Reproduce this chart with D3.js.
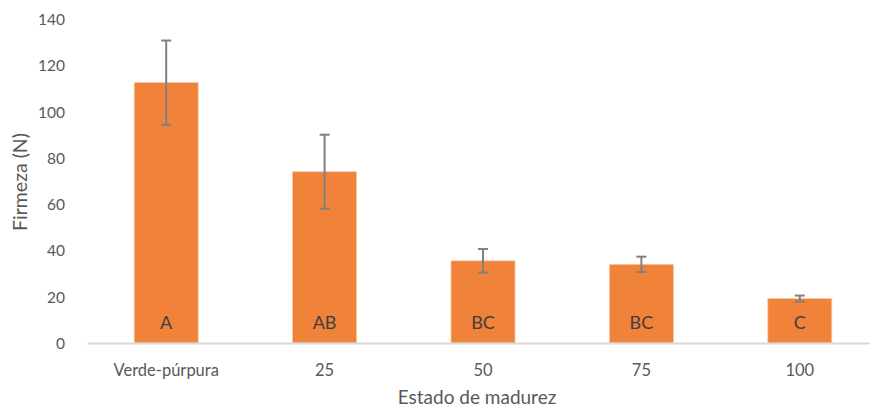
<!DOCTYPE html>
<html>
<head>
<meta charset="utf-8">
<script src="https://cdn.jsdelivr.net/npm/d3@7"></script>
<style>
  html, body { margin: 0; padding: 0; background: #fff; }
  svg text { font-family: Lato, "Open Sans", sans-serif; }
</style>
</head>
<body>
<svg id="chart" width="870" height="409"></svg>
<script>
// Firmness by ripeness stage: mean, error and significance letter
const categories = ["Verde-púrpura", "25", "50", "75", "100"];
const firmeza = [112.5, 74.0, 35.5, 34.0, 19.2];
const errores = [18.2, 16.0, 5.1, 3.3, 1.3];
const letras = ["A", "AB", "BC", "BC", "C"];
const yTicks = [0, 20, 40, 60, 80, 100, 120, 140];

const svg = d3.select("#chart");
const plotLeft = 87, plotRight = 879, plotTop = 19, plotBottom = 343;

const x = d3.scaleBand().domain(categories).range([plotLeft, plotRight]).paddingInner(0.596).paddingOuter(0.298);
const y = d3.scaleLinear().domain([0, 140]).range([plotBottom, plotTop]);

// y tick labels (no axis line, no gridlines)
const yAxis = d3.axisLeft(y).tickValues(yTicks).tickSize(0).tickPadding(0);
svg.append("g")
  .attr("transform", `translate(65,0)`)
  .call(yAxis)
  .call(g => g.select(".domain").remove())
  .call(g => g.selectAll("text")
    .attr("fill", "#595959").attr("font-size", 15.5).attr("dy", "0.35em"));

// bars
svg.append("g").selectAll("rect")
  .data(categories)
  .join("rect")
  .attr("x", d => x(d))
  .attr("width", x.bandwidth())
  .attr("y", (d, i) => y(firmeza[i]))
  .attr("height", (d, i) => y(0) - y(firmeza[i]))
  .attr("fill", "#F0823A")
  .attr("stroke", "#F8C7A4")
  .attr("stroke-width", 0.8);

// x axis line and category labels
const xAxis = d3.axisBottom(x).tickSize(0).tickPadding(20);
svg.append("g")
  .attr("transform", `translate(0,${plotBottom})`)
  .call(xAxis)
  .call(g => g.select(".domain").attr("stroke", "#D9D9D9").attr("stroke-width", 2))
  .call(g => g.selectAll("text")
    .attr("fill", "#595959").attr("font-size", 16.5).attr("dy", "0.35em").attr("y", 27));

// error bars
const cx = d => x(d) + x.bandwidth() / 2;
const eb = svg.append("g").attr("stroke", "#808080").attr("stroke-width", 2).attr("fill", "none");
categories.forEach((c, i) => {
  const hi = y(firmeza[i] + errores[i]), lo = y(firmeza[i] - errores[i]);
  eb.append("line").attr("x1", cx(c)).attr("x2", cx(c)).attr("y1", hi).attr("y2", lo);
  eb.append("line").attr("x1", cx(c) - 5).attr("x2", cx(c) + 5).attr("y1", hi).attr("y2", hi);
  eb.append("line").attr("x1", cx(c) - 5).attr("x2", cx(c) + 5).attr("y1", lo).attr("y2", lo);
});

// significance letters inside bars
svg.append("g").selectAll("text")
  .data(categories)
  .join("text")
  .attr("x", d => cx(d))
  .attr("y", 323)
  .attr("dy", "0.35em")
  .attr("text-anchor", "middle")
  .attr("font-size", 18)
  .attr("fill", "#404040")
  .text((d, i) => letras[i]);

// axis titles
svg.append("text")
  .attr("transform", "translate(20,182) rotate(-90)")
  .attr("text-anchor", "middle")
  .attr("dy", "0.35em")
  .attr("font-size", 19.5)
  .attr("fill", "#595959")
  .text("Firmeza (N)");

svg.append("text")
  .attr("x", 477)
  .attr("y", 397)
  .attr("dy", "0.35em")
  .attr("text-anchor", "middle")
  .attr("font-size", 19)
  .attr("fill", "#595959")
  .text("Estado de madurez");
</script>
</body>
</html>
